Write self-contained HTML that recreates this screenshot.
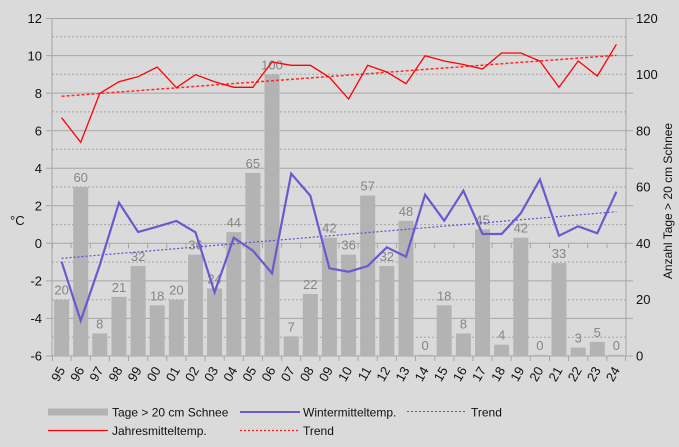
<!DOCTYPE html>
<html><head><meta charset="utf-8"><style>
html,body{margin:0;padding:0;background:#dadada;}
svg{display:block;}
text{font-family:"Liberation Sans",Arial,sans-serif;}
</style></head><body>
<svg width="679" height="447" viewBox="0 0 679 447" xmlns="http://www.w3.org/2000/svg">
<rect width="679" height="447" fill="#dadada"/>
<!-- dashed gridlines -->
<g stroke="#a4a4a4" stroke-width="1" stroke-dasharray="2,2">
<line x1="52" x2="626" y1="36.8" y2="36.8"/>
<line x1="52" x2="626" y1="74.3" y2="74.3"/>
<line x1="52" x2="626" y1="111.9" y2="111.9"/>
<line x1="52" x2="626" y1="149.4" y2="149.4"/>
<line x1="52" x2="626" y1="187" y2="187"/>
<line x1="52" x2="626" y1="224.6" y2="224.6"/>
<line x1="52" x2="626" y1="262.1" y2="262.1"/>
<line x1="52" x2="626" y1="299.7" y2="299.7"/>
<line x1="52" x2="626" y1="337.2" y2="337.2"/>
</g>
<!-- solid gridlines -->
<g stroke="#a6a6a6" stroke-width="1">
<line x1="46" x2="633" y1="18.5" y2="18.5"/>
<line x1="46" x2="633" y1="55.6" y2="55.6"/>
<line x1="46" x2="633" y1="93.1" y2="93.1"/>
<line x1="46" x2="633" y1="130.7" y2="130.7"/>
<line x1="46" x2="633" y1="168.2" y2="168.2"/>
<line x1="46" x2="633" y1="205.8" y2="205.8"/>
<line x1="46" x2="633" y1="243.3" y2="243.3"/>
<line x1="46" x2="633" y1="280.9" y2="280.9"/>
<line x1="46" x2="633" y1="318.4" y2="318.4"/>
<line x1="46" x2="633" y1="356" y2="356"/>
<line x1="52" x2="52" y1="18" y2="356"/>
<line x1="626" x2="626" y1="18" y2="356"/>
</g>
<!-- x ticks -->
<g stroke="#a6a6a6" stroke-width="1">
<path d="M52.5 356v5M71.1 356v5M90.3 356v5M109.4 356v5M128.5 356v5M147.7 356v5M166.8 356v5M185.9 356v5M205.1 356v5M224.2 356v5M243.3 356v5M262.5 356v5M281.6 356v5M300.7 356v5M319.9 356v5M339 356v5M358.1 356v5M377.3 356v5M396.4 356v5M415.5 356v5M434.7 356v5M453.8 356v5M472.9 356v5M492.1 356v5M511.2 356v5M530.3 356v5M549.5 356v5M568.6 356v5M587.7 356v5M606.9 356v5M625.5 356v5"/>
<path d="M52.5 243.3v5M71.1 243.3v5M90.3 243.3v5M109.4 243.3v5M128.5 243.3v5M147.7 243.3v5M166.8 243.3v5M185.9 243.3v5M205.1 243.3v5M224.2 243.3v5M243.3 243.3v5M262.5 243.3v5M281.6 243.3v5M300.7 243.3v5M319.9 243.3v5M339 243.3v5M358.1 243.3v5M377.3 243.3v5M396.4 243.3v5M415.5 243.3v5M434.7 243.3v5M453.8 243.3v5M472.9 243.3v5M492.1 243.3v5M511.2 243.3v5M530.3 243.3v5M549.5 243.3v5M568.6 243.3v5M587.7 243.3v5M606.9 243.3v5M625.5 243.3v5"/>
</g>
<!-- bars -->
<g fill="#b3b3b3">
<rect x="54.1" y="299.7" width="15" height="56.3"/>
<rect x="73.2" y="187" width="15" height="169"/>
<rect x="92.3" y="333.5" width="15" height="22.5"/>
<rect x="111.5" y="296.9" width="15" height="59.1"/>
<rect x="130.6" y="265.9" width="15" height="90.1"/>
<rect x="149.7" y="305.3" width="15" height="50.7"/>
<rect x="168.9" y="299.7" width="15" height="56.3"/>
<rect x="188" y="254.6" width="15" height="101.4"/>
<rect x="207.1" y="288.4" width="15" height="67.6"/>
<rect x="226.3" y="232.1" width="15" height="123.9"/>
<rect x="245.4" y="172.9" width="15" height="183.1"/>
<rect x="264.5" y="74.3" width="15" height="281.7"/>
<rect x="283.7" y="336.3" width="15" height="19.7"/>
<rect x="302.8" y="294" width="15" height="62"/>
<rect x="321.9" y="237.7" width="15" height="118.3"/>
<rect x="341.1" y="254.6" width="15" height="101.4"/>
<rect x="360.2" y="195.5" width="15" height="160.5"/>
<rect x="379.3" y="265.9" width="15" height="90.1"/>
<rect x="398.5" y="220.8" width="15" height="135.2"/>
<rect x="417.6" y="354.8" width="15" height="1.2"/>
<rect x="436.7" y="305.3" width="15" height="50.7"/>
<rect x="455.9" y="333.5" width="15" height="22.5"/>
<rect x="475" y="229.3" width="15" height="126.7"/>
<rect x="494.1" y="344.7" width="15" height="11.3"/>
<rect x="513.3" y="237.7" width="15" height="118.3"/>
<rect x="532.4" y="354.8" width="15" height="1.2"/>
<rect x="551.5" y="263.1" width="15" height="92.9"/>
<rect x="570.7" y="347.6" width="15" height="8.4"/>
<rect x="589.8" y="341.9" width="15" height="14.1"/>
<rect x="608.9" y="354.8" width="15" height="1.2"/>
</g>
<!-- bar labels -->
<g fill="#858585" font-size="13" text-anchor="middle">
<text x="61.6" y="294.7">20</text>
<text x="80.7" y="182">60</text>
<text x="99.8" y="328.5">8</text>
<text x="119" y="291.9">21</text>
<text x="138.1" y="260.9">32</text>
<text x="157.2" y="300.3">18</text>
<text x="176.4" y="294.7">20</text>
<text x="195.5" y="249.6">36</text>
<text x="214.6" y="283.4">24</text>
<text x="233.8" y="227.1">44</text>
<text x="252.9" y="167.9">65</text>
<text x="272" y="69.3">100</text>
<text x="291.2" y="331.3">7</text>
<text x="310.3" y="289">22</text>
<text x="329.4" y="232.7">42</text>
<text x="348.6" y="249.6">36</text>
<text x="367.7" y="190.5">57</text>
<text x="386.8" y="260.9">32</text>
<text x="406" y="215.8">48</text>
<text x="425.1" y="350">0</text>
<text x="444.2" y="300.3">18</text>
<text x="463.4" y="328.5">8</text>
<text x="482.5" y="224.3">45</text>
<text x="501.6" y="339.7">4</text>
<text x="520.8" y="232.7">42</text>
<text x="539.9" y="350">0</text>
<text x="559" y="258.1">33</text>
<text x="578.2" y="342.6">3</text>
<text x="597.3" y="336.9">5</text>
<text x="616.4" y="350">0</text>
</g>
<!-- trend lines -->
<line x1="61.6" y1="96.3" x2="616.4" y2="55.3" stroke="#ff2a2a" stroke-width="1.5" stroke-dasharray="3,2"/>
<line x1="61.6" y1="258.3" x2="616.4" y2="211.7" stroke="#5a4fd8" stroke-width="1.2" stroke-dasharray="2,2"/>
<!-- red line -->
<polyline fill="none" stroke="#ff0000" stroke-width="1.3" stroke-linejoin="miter" points="61.6,117.7 80.7,142.3 99.8,93.3 119,81.7 138.1,76.7 157.2,67 176.4,87.7 195.5,74.7 214.6,81.7 233.8,87.3 252.9,87.3 272,62 291.2,65.3 310.3,65.3 329.4,77.3 348.6,99 367.7,65.3 386.8,72 406,83.7 425.1,55.7 444.2,61 463.4,64.5 482.5,69 501.6,53 520.8,53 539.9,61 559,87.3 578.2,61 597.3,76 616.4,44.3"/>
<!-- blue line -->
<polyline fill="none" stroke="#6a5acd" stroke-width="2.2" stroke-linejoin="miter" points="61.6,261.7 80.7,320.7 99.8,265 119,202.7 138.1,232 157.2,226.7 176.4,221 195.5,232.3 214.6,292.3 233.8,237.7 252.9,250.7 272,273.3 291.2,173.7 310.3,195.7 329.4,268.3 348.6,271.7 367.7,266 386.8,247.3 406,256.7 425.1,194.7 444.2,220.7 463.4,190.7 482.5,234 501.6,234 520.8,213.3 539.9,179.5 559,235.7 578.2,226.3 597.3,233.3 616.4,191.7"/>
<!-- left axis labels -->
<g fill="#111" font-size="13" text-anchor="end">
<text x="42" y="23">12</text>
<text x="42" y="60.5">10</text>
<text x="42" y="98">8</text>
<text x="42" y="135.5">6</text>
<text x="42" y="173">4</text>
<text x="42" y="210.5">2</text>
<text x="42" y="248">0</text>
<text x="42" y="285.5">-2</text>
<text x="42" y="323">-4</text>
<text x="42" y="360.5">-6</text>
</g>
<!-- right axis labels -->
<g fill="#111" font-size="13" text-anchor="start">
<text x="636" y="23">120</text>
<text x="636" y="79">100</text>
<text x="636" y="135.5">80</text>
<text x="636" y="191.5">60</text>
<text x="636" y="248">40</text>
<text x="636" y="304">20</text>
<text x="636" y="360.5">0</text>
</g>
<text x="10" y="225" font-size="13" fill="#111">°C</text>
<text transform="translate(672,201) rotate(-90)" font-size="12" fill="#111" text-anchor="middle">Anzahl Tage &gt; 20 cm Schnee</text>
<!-- x labels -->
<g fill="#111" font-size="13" text-anchor="end">
<text transform="translate(65.6,370) rotate(-60)">95</text>
<text transform="translate(84.7,370) rotate(-60)">96</text>
<text transform="translate(103.8,370) rotate(-60)">97</text>
<text transform="translate(123,370) rotate(-60)">98</text>
<text transform="translate(142.1,370) rotate(-60)">99</text>
<text transform="translate(161.2,370) rotate(-60)">00</text>
<text transform="translate(180.4,370) rotate(-60)">01</text>
<text transform="translate(199.5,370) rotate(-60)">02</text>
<text transform="translate(218.6,370) rotate(-60)">03</text>
<text transform="translate(237.8,370) rotate(-60)">04</text>
<text transform="translate(256.9,370) rotate(-60)">05</text>
<text transform="translate(276,370) rotate(-60)">06</text>
<text transform="translate(295.2,370) rotate(-60)">07</text>
<text transform="translate(314.3,370) rotate(-60)">08</text>
<text transform="translate(333.4,370) rotate(-60)">09</text>
<text transform="translate(352.6,370) rotate(-60)">10</text>
<text transform="translate(371.7,370) rotate(-60)">11</text>
<text transform="translate(390.8,370) rotate(-60)">12</text>
<text transform="translate(410,370) rotate(-60)">13</text>
<text transform="translate(429.1,370) rotate(-60)">14</text>
<text transform="translate(448.2,370) rotate(-60)">15</text>
<text transform="translate(467.4,370) rotate(-60)">16</text>
<text transform="translate(486.5,370) rotate(-60)">17</text>
<text transform="translate(505.6,370) rotate(-60)">18</text>
<text transform="translate(524.8,370) rotate(-60)">19</text>
<text transform="translate(543.9,370) rotate(-60)">20</text>
<text transform="translate(563,370) rotate(-60)">21</text>
<text transform="translate(582.2,370) rotate(-60)">22</text>
<text transform="translate(601.3,370) rotate(-60)">23</text>
<text transform="translate(620.4,370) rotate(-60)">24</text>
</g>
<!-- legend -->
<rect x="48" y="408.5" width="60" height="7" fill="#b3b3b3"/>
<text x="112" y="416.5" font-size="12" fill="#111">Tage &gt; 20 cm Schnee</text>
<line x1="240" x2="300" y1="412" y2="412" stroke="#6a5acd" stroke-width="2"/>
<text x="303" y="416.5" font-size="12" fill="#111">Wintermitteltemp.</text>
<line x1="407" x2="467" y1="411.5" y2="411.5" stroke="#5a4fd8" stroke-width="1" stroke-dasharray="2,2"/>
<text x="471" y="416.5" font-size="12" fill="#111">Trend</text>
<line x1="48" x2="108" y1="430.5" y2="430.5" stroke="#ff0000" stroke-width="1.3"/>
<text x="112" y="435" font-size="12" fill="#111">Jahresmitteltemp.</text>
<line x1="240" x2="300" y1="430.5" y2="430.5" stroke="#ff1a1a" stroke-width="1.2" stroke-dasharray="2,2"/>
<text x="303" y="435" font-size="12" fill="#111">Trend</text>
</svg>
</body></html>
